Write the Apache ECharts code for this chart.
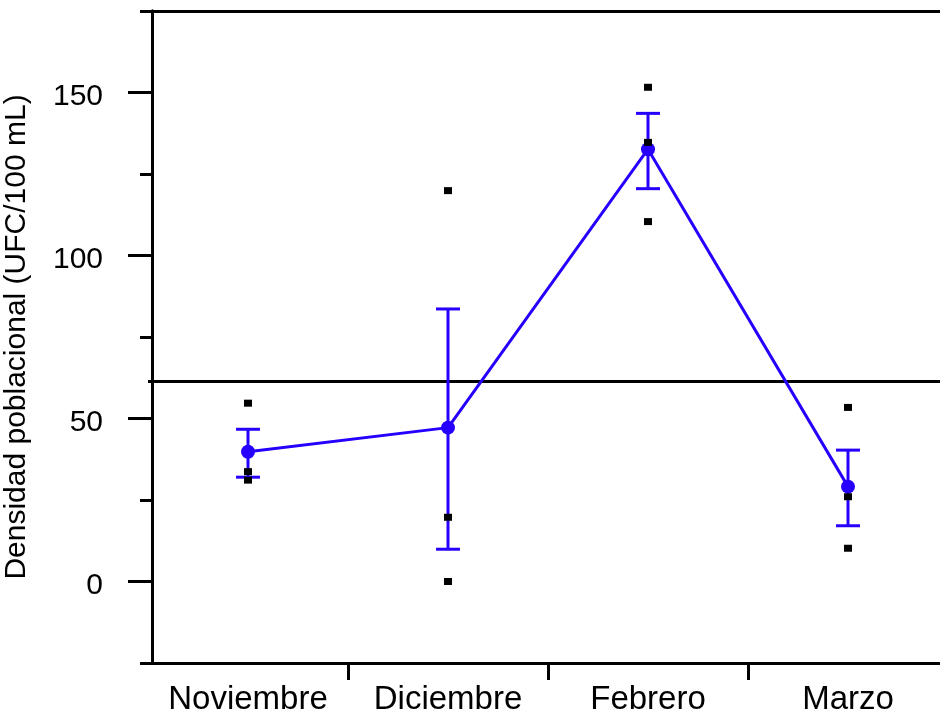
<!DOCTYPE html>
<html>
<head>
<meta charset="utf-8">
<script src="https://cdn.jsdelivr.net/npm/echarts@6/dist/echarts.min.js"></script>
<style>
html,body{margin:0;padding:0;background:#fff;}
#chart{width:940px;height:720px;}
</style>
</head>
<body>
<div id="chart"></div>
<script>
const categories = ['Noviembre', 'Diciembre', 'Febrero', 'Marzo'];
const means = [39.8, 47.2, 132.6, 29.1];
const errLow = [32.0, 9.9, 120.5, 17.1];
const errHigh = [46.7, 83.6, 143.6, 40.3];
const replicates = [
  [54.7, 33.7, 31.1],
  [119.9, 19.7, 0.0],
  [151.6, 134.7, 110.4],
  [53.4, 26.0, 10.2]
];
const refValue = 61.5;
const yMajorTicks = [0, 50, 100, 150];
const yMinorTicks = [-25, 25, 75, 125, 175];
const yTitle = 'Densidad poblacional (UFC/100 mL)';

const BLUE = '#2600ff';
const FONT = 'Liberation Sans, Arial, sans-serif';

const scatterData = [];
categories.forEach((c, i) => replicates[i].forEach(v => scatterData.push([c, v])));
const errData = categories.map((c, i) => [i, errLow[i], errHigh[i]]);

const chart = echarts.init(document.getElementById('chart'), null, {renderer: 'canvas'});
chart.setOption({
  animation: false,
  backgroundColor: '#fff',
  grid: {left: 148, top: 11, width: 800, height: 652, containLabel: false, outerBoundsMode: 'none'},
  xAxis: [{
    type: 'category',
    data: categories,
    position: 'bottom',
    boundaryGap: true,
    axisLine: {show: true, onZero: false, lineStyle: {color: '#000', width: 3}},
    axisTick: {show: true, length: 17, interval: function (i) { return i !== 0; }, lineStyle: {color: '#000', width: 3}},
    axisLabel: {show: true, color: '#000', fontSize: 33, fontFamily: FONT, margin: 20, interval: 0},
    splitLine: {show: false}
  }, {
    type: 'category',
    data: categories,
    position: 'top',
    axisLine: {show: true, onZero: false, lineStyle: {color: '#000', width: 3}},
    axisTick: {show: false},
    axisLabel: {show: false},
    splitLine: {show: false}
  }],
  yAxis: [{
    type: 'value',
    min: -25, max: 175,
    position: 'left',
    offset: -4,
    name: yTitle,
    nameLocation: 'middle',
    nameGap: 120,
    nameTextStyle: {color: '#000', fontSize: 30, fontFamily: FONT},
    axisLine: {show: true, onZero: false, lineStyle: {color: '#000', width: 3}},
    axisTick: {show: true, length: 24, customValues: yMajorTicks, lineStyle: {color: '#000', width: 3}},
    axisLabel: {show: true, customValues: yMajorTicks, color: '#000', fontSize: 30, fontFamily: FONT, margin: 49, verticalAlign: 'top', lineHeight: 9},
    splitLine: {show: false}
  }, {
    type: 'value',
    min: -25, max: 175,
    position: 'left',
    offset: -4,
    axisLine: {show: true, onZero: false, lineStyle: {color: '#000', width: 3}},
    axisTick: {show: true, length: 12, customValues: yMinorTicks, lineStyle: {color: '#000', width: 3}},
    axisLabel: {show: false},
    splitLine: {show: false}
  }],
  series: [{
    type: 'line',
    data: means,
    xAxisIndex: 0, yAxisIndex: 0,
    symbol: 'circle',
    symbolSize: 14,
    lineStyle: {color: BLUE, width: 3},
    itemStyle: {color: BLUE},
    z: 3,
    markLine: {
      silent: true,
      symbol: 'none',
      label: {show: false},
      lineStyle: {color: '#000', width: 3, type: 'solid'},
      data: [{yAxis: refValue}],
      z: 1
    }
  }, {
    type: 'custom',
    xAxisIndex: 0, yAxisIndex: 0,
    data: errData,
    z: 2,
    renderItem: function (params, api) {
      const x = api.value(0);
      const lo = api.coord([x, api.value(1)]);
      const hi = api.coord([x, api.value(2)]);
      const hw = 12;
      const style = {stroke: BLUE, lineWidth: 3, fill: null};
      return {
        type: 'group',
        children: [
          {type: 'line', shape: {x1: lo[0], y1: lo[1], x2: hi[0], y2: hi[1]}, style: style},
          {type: 'line', shape: {x1: lo[0] - hw, y1: lo[1], x2: lo[0] + hw, y2: lo[1]}, style: style},
          {type: 'line', shape: {x1: hi[0] - hw, y1: hi[1], x2: hi[0] + hw, y2: hi[1]}, style: style}
        ]
      };
    }
  }, {
    type: 'scatter',
    xAxisIndex: 0, yAxisIndex: 0,
    data: scatterData,
    symbol: 'rect',
    symbolSize: [8, 7],
    itemStyle: {color: '#000', opacity: 1},
    z: 5
  }]
});
</script>
</body>
</html>
